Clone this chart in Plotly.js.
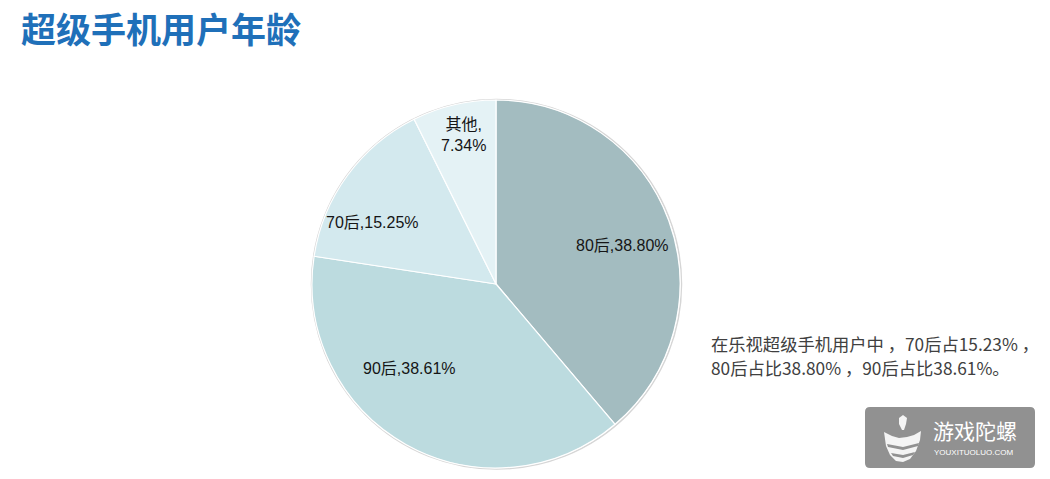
<!DOCTYPE html>
<html><head><meta charset="utf-8">
<script src="https://cdn.plot.ly/plotly-3.0.1.min.js"></script>
<style>html,body{margin:0;padding:0;background:#fff;}#c{width:1050px;height:479px;}</style>
</head><body><div id="c"></div>
<script>
const categories = ['80后', '90后', '70后', '其他'];
const values = [38.80, 38.61, 15.25, 7.34];
const labelText = ['80后,38.80%', '90后,38.61%', '70后,15.25%', '其他,<br>7.34%'];
const colors = ['#a3bcc0', '#bcdbdf', '#d3e9ee', '#e4f2f5'];
const noteLines = ['在乐视超级手机用户中 ，70后占15.23% ，', '80后占比38.80% ，90后占比38.61%。'];

// label placement (pixel positions of label centres, layout only)
const labelPx = [[622, 245], [409, 368], [372, 222], [463, 135]];
const notePx = [[709, 343], [709, 367]];

const W = 1050, H = 479;
const data = [{
  type: 'pie',
  labels: categories,
  values: values,
  textinfo: 'none',
  sort: false,
  direction: 'clockwise',
  rotation: 0,
  marker: {colors: colors, line: {color: '#ffffff', width: 1.2}},
  domain: {x: [312/W, 680/W], y: [(H-468)/H, (H-100)/H]},
  showlegend: false,
  hoverinfo: 'none'
}];
const labelAnns = labelText.map((t, i) => ({
  text: t, xref: 'paper', yref: 'paper', x: labelPx[i][0]/W, y: 1 - labelPx[i][1]/H,
  xanchor: 'center', yanchor: 'middle', showarrow: false, align: 'center',
  font: {family: 'Liberation Sans, Noto Sans CJK SC, sans-serif', size: 16, color: '#151515'}
}));
const noteAnns = noteLines.map((t, i) => ({
  text: t, xref: 'paper', yref: 'paper', x: notePx[i][0]/W, y: 1 - notePx[i][1]/H,
  xanchor: 'left', yanchor: 'middle', showarrow: false, align: 'left',
  font: {family: 'Noto Sans CJK SC, sans-serif', size: 17.3, color: '#404040'}
}));
function P(pts){
  return 'M' + pts.map(p => (p[0]/W) + ',' + (1 - p[1]/H)).join(' L') + ' Z';
}
function roundRect(x0, y0, x1, y1, r){
  const X = x => x/W, Y = y => 1 - y/H;
  return `M${X(x0+r)},${Y(y0)} L${X(x1-r)},${Y(y0)} Q${X(x1)},${Y(y0)} ${X(x1)},${Y(y0+r)} L${X(x1)},${Y(y1-r)} Q${X(x1)},${Y(y1)} ${X(x1-r)},${Y(y1)} L${X(x0+r)},${Y(y1)} Q${X(x0)},${Y(y1)} ${X(x0)},${Y(y1-r)} L${X(x0)},${Y(y0+r)} Q${X(x0)},${Y(y0)} ${X(x0+r)},${Y(y0)} Z`;
}
const layout = {
  width: W, height: H,
  margin: {l: 0, r: 0, t: 0, b: 0},
  paper_bgcolor: '#ffffff',
  title: {text: '<b>超级手机用户年龄</b>', x: 21/W, xanchor: 'left', y: 1 - 31/H, yanchor: 'middle',
          font: {family: 'Noto Sans CJK SC, sans-serif', size: 35, color: '#1f70b9'}},
  shapes: [
    {type: 'circle', xref: 'paper', yref: 'paper', x0: 311.5/W, x1: 681.5/W, y0: (H-469)/H, y1: (H-99.5)/H,
     line: {color: '#d6d6d6', width: 1.5}, layer: 'below'},
    {type: 'path', xref: 'paper', yref: 'paper', layer: 'above',
     path: roundRect(865, 407, 1035, 468, 5), fillcolor: '#919191', line: {width: 0}},
    {type: 'path', xref: 'paper', yref: 'paper', layer: 'above', fillcolor: '#f4f4f4', line: {width: 0},
     path: P([[884,432],[892,436],[899,438],[907,437],[914,435],[921,431],[920,440],[916,451],[910,459],[903,462],[896,461],[890,455],[886,446]])},
    {type: 'path', xref: 'paper', yref: 'paper', layer: 'above', fillcolor: '#919191', line: {width: 0},
     path: P([[887,444],[903,447],[919,443],[918,446],[903,450],[888,447]])},
    {type: 'path', xref: 'paper', yref: 'paper', layer: 'above', fillcolor: '#919191', line: {width: 0},
     path: P([[891,453],[903,455],[915,452],[913,455],[903,458],[893,456]])},
    {type: 'path', xref: 'paper', yref: 'paper', layer: 'above', fillcolor: '#f4f4f4', line: {width: 0},
     path: P([[903,415],[907,418],[906,424],[904,430],[902,430],[899,424],[899,418]])}
  ],
  annotations: labelAnns.concat(noteAnns, [
    {text: '游戏陀螺', xref: 'paper', yref: 'paper', x: 931/W, y: 1 - 430/H, xanchor: 'left', yanchor: 'middle',
     showarrow: false, font: {family: 'Noto Sans CJK SC, sans-serif', size: 21, color: '#ffffff'}},
    {text: 'YOUXITUOLUO.COM', xref: 'paper', yref: 'paper', x: 932/W, y: 1 - 452/H, xanchor: 'left', yanchor: 'middle',
     showarrow: false, font: {family: 'Liberation Sans, sans-serif', size: 8, color: '#ffffff'}}
  ])
};
Plotly.newPlot('c', data, layout, {displayModeBar: false, staticPlot: true});
</script></body></html>
